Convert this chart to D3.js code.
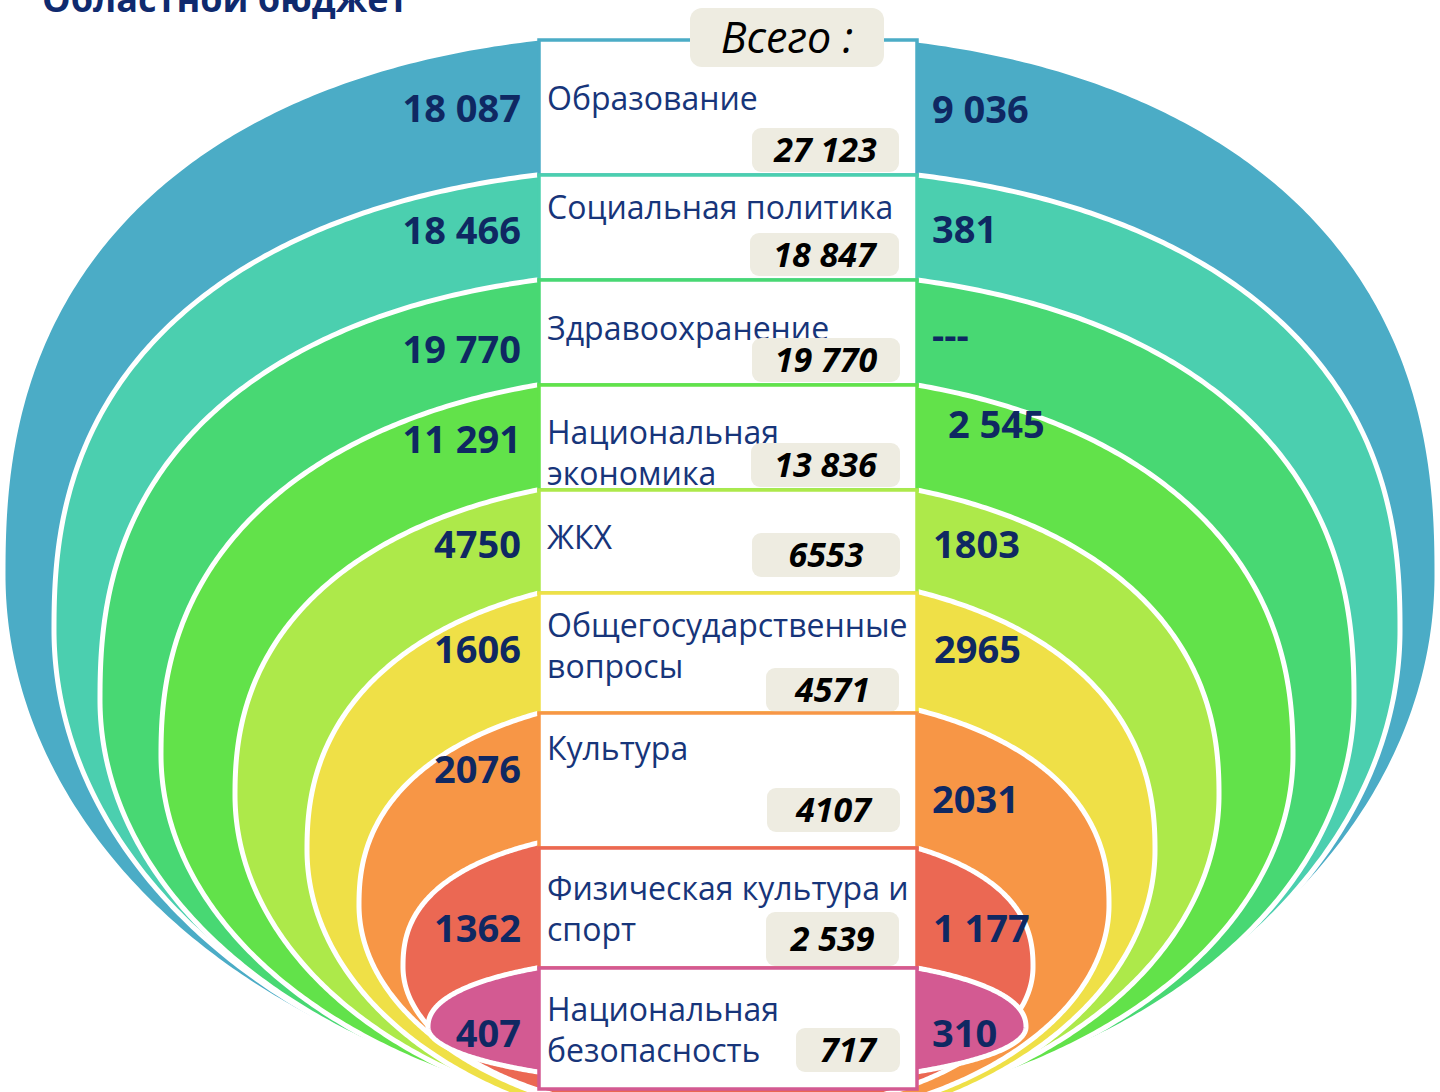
<!DOCTYPE html>
<html>
<head>
<meta charset="utf-8">
<script src="https://cdn.jsdelivr.net/npm/d3@7"></script>
<style>
  body { margin: 0; background: #ffffff; }
  svg { display: block; }
  text { font-family: "Open Sans", "Noto Sans", sans-serif; }
</style>
</head>
<body>
<svg id="chart" width="1440" height="1092"></svg>
<script>
// ---- data: spending by section, outer ring first ----
const categories = [
  "Образование",
  "Социальная политика",
  "Здравоохранение",
  "Национальная\nэкономика",
  "ЖКХ",
  "Общегосударственные\nвопросы",
  "Культура",
  "Физическая культура и\nспорт",
  "Национальная\nбезопасность"
];
const leftValues  = ["18 087", "18 466", "19 770", "11 291", "4750", "1606", "2076", "1362", "407"];
const rightValues = ["9 036", "381", "---", "2 545", "1803", "2965", "2031", "1 177", "310"];
const totalValues = ["27 123", "18 847", "19 770", "13 836", "6553", "4571", "4107", "2 539", "717"];
const titleText = "Областной бюджет";
const totalHeader = "Всего :";

// ---- layout ----
const W = 1440, H = 1092;
const colX0 = 539, colX1 = 917;            // central column of section boxes
const rowTops = [40, 175, 280, 385, 490, 593, 713, 848, 968];
const columnBottom = 1089;
const ringColors = ["#4BACC6", "#4BCFAF", "#48D873", "#62E24A", "#ADE94A", "#EFE047", "#F79646", "#EB6853", "#D35A92"];
// ring geometry: centre x, half width, y of widest point, lower half-height, squareness of the top
const ringCx = [720, 727, 727, 727, 727, 731, 734, 718, 727];
const ringR  = [717, 673, 627, 566, 492, 424, 375, 315, 299];
const ringCy = [575, 630, 700, 755, 795, 850, 905, 967, 1027];
const ringD  = [540, 488, 418, 366, 333, 287, 221, 150, 58];
const ringN  = [2.4, 2.4, 2.4, 2.3, 2.3, 2.3, 2.3, 2.4, 2.2];

const labelBaseline = [110, 219, 340, 444, 549, 637, 760, 900, 1021];
const labelLineGap = 41;
const leftBaseline  = [122, 244, 363, 453, 558, 663, 783, 942, 1047];
const rightBaseline = [123, 243, 349, 438, 558, 663, 813, 942, 1047];
const rightX        = [932, 932, 932, 948, 933, 934, 932, 933, 932];
const pillBox = [ // x0, x1, y0, y1
  [752, 899, 128, 172], [750, 899, 233, 276], [752, 900, 338, 382],
  [751, 900, 443, 487], [752, 900, 533, 577], [766, 899, 668, 712],
  [767, 900, 788, 832], [766, 899, 912, 966], [796, 900, 1028, 1072]
];

const navy = "#0F2862";
const labelNavy = "#17357A";
const pillFill = "#EEECE1";

// ---- scales ----
const rowY = d3.scaleOrdinal().domain(categories).range(rowTops);
const ringColor = d3.scaleOrdinal().domain(categories).range(ringColors);
const rowBottom = (i) => i < categories.length - 1 ? rowY(categories[i + 1]) : columnBottom;

const svg = d3.select("#chart");

// title, cut by the upper edge
svg.append("text")
  .attr("x", 42).attr("y", 12)
  .attr("font-size", 36).attr("font-weight", 700)
  .attr("fill", "#0F2A6E")
  .text(titleText);

// ring outline: rounded-square top, elliptical bottom running off the page
function ringPath(i) {
  const cx = ringCx[i], cy = ringCy[i], R = ringR[i], D = ringD[i], n = ringN[i];
  const top = rowY(categories[i]);
  const edge = Math.max(Math.abs(colX0 - cx), Math.abs(colX1 - cx));
  const Ht = (cy - top) / Math.pow(1 - Math.pow(edge / R, n), 1 / n);
  const pts = [];
  const N = 720;
  for (let k = 0; k <= N; k++) {
    const t = (k / N) * 2 * Math.PI;
    const c = Math.cos(t), s = Math.sin(t);
    if (s < 0) {
      pts.push([cx + R * Math.sign(c) * Math.pow(Math.abs(c), 2 / n),
                cy - Ht * Math.pow(Math.abs(s), 2 / n)]);
    } else {
      pts.push([cx + R * c, cy + D * s]);
    }
  }
  return d3.line()(pts) + "Z";
}

// keep ring tops from peeking above the column
const defs = svg.append("defs");
const clip = defs.append("clipPath").attr("id", "ringClip");
clip.append("rect").attr("x", 0).attr("y", 0).attr("width", colX0 + 2).attr("height", H);
clip.append("rect").attr("x", colX1 - 2).attr("y", 0).attr("width", W - colX1 + 2).attr("height", H);
clip.append("rect").attr("x", colX0).attr("y", rowTops[0]).attr("width", colX1 - colX0).attr("height", H);

svg.append("g").attr("clip-path", "url(#ringClip)")
  .selectAll("path")
  .data(categories)
  .join("path")
  .attr("d", (d, i) => ringPath(i))
  .attr("fill", d => ringColor(d))
  .attr("stroke", "#ffffff")
  .attr("stroke-width", 5)
  .attr("stroke-linejoin", "round");

// side values
svg.append("g").selectAll("text")
  .data(leftValues)
  .join("text")
  .attr("x", 521)
  .attr("y", (d, i) => leftBaseline[i])
  .attr("text-anchor", "end")
  .attr("font-size", 38).attr("font-weight", 700)
  .attr("fill", navy)
  .text(d => d);

svg.append("g").selectAll("text")
  .data(rightValues)
  .join("text")
  .attr("x", (d, i) => rightX[i])
  .attr("y", (d, i) => rightBaseline[i])
  .attr("font-size", 38).attr("font-weight", 700)
  .attr("fill", navy)
  .text(d => d);

// central column: one box per section, label and total
const rows = svg.append("g").selectAll("g")
  .data(categories)
  .join("g");

rows.append("rect")
  .attr("x", colX0)
  .attr("y", d => rowY(d))
  .attr("width", colX1 - colX0)
  .attr("height", (d, i) => rowBottom(i) - rowY(d))
  .attr("fill", "#ffffff")
  .attr("stroke", d => ringColor(d))
  .attr("stroke-width", 3.5);

rows.each(function (d, i) {
  const g = d3.select(this);
  const t = g.append("text")
    .attr("x", 547)
    .attr("y", labelBaseline[i])
    .attr("font-size", 32)
    .attr("fill", labelNavy);
  d.split("\n").forEach((line, j) => {
    t.append("tspan").attr("x", 547).attr("y", labelBaseline[i] + j * labelLineGap).text(line);
  });
  const [x0, x1, y0, y1] = pillBox[i];
  g.append("rect")
    .attr("x", x0).attr("y", y0)
    .attr("width", x1 - x0).attr("height", y1 - y0)
    .attr("rx", 9)
    .attr("fill", pillFill);
  g.append("text")
    .attr("x", (x0 + x1) / 2)
    .attr("y", (y0 + y1) / 2 + 12)
    .attr("text-anchor", "middle")
    .attr("font-size", 34).attr("font-weight", 700).attr("font-style", "italic")
    .attr("fill", "#000000")
    .text(totalValues[i]);
});

// header badge over the column
svg.append("rect")
  .attr("x", 690).attr("y", 8).attr("width", 194).attr("height", 59)
  .attr("rx", 12).attr("fill", pillFill);
svg.append("text")
  .attr("x", 787).attr("y", 53)
  .attr("text-anchor", "middle")
  .attr("font-size", 43).attr("font-style", "italic")
  .attr("fill", "#000000")
  .text(totalHeader);
</script>
</body>
</html>
